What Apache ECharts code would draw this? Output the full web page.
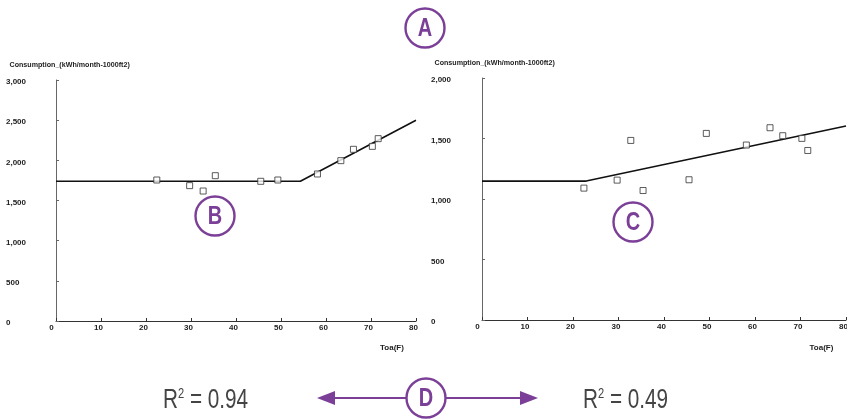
<!DOCTYPE html>
<html><head><meta charset="utf-8">
<style>html,body{margin:0;padding:0;background:#fff}#c{width:847px;height:420px}</style>
<script src="https://cdn.jsdelivr.net/npm/echarts@6/dist/echarts.min.js"></script>
</head><body><div id="c"></div>
<script>
const yTitle = 'Consumption_(kWh/month-1000ft2)';
const xTitle = 'Toa(F)';
const temps = [22.4, 29.7, 32.7, 35.4, 45.5, 49.3, 58.1, 63.3, 66.1, 70.3, 71.6];
const leftValues = [1755, 1685, 1618, 1809, 1739, 1755, 1830, 1996, 2137, 2174, 2270];
const rightValues = [1090, 1156, 1484, 1070, 1159, 1542, 1446, 1589, 1523, 1501, 1401];
const leftFit = [[0, 1740], [54.3, 1740], [80, 2498]];
const rightFit = [[0, 1148], [22.9, 1148], [80, 1603]];
const leftMax = 3000, rightMax = 2000;
const r2Left = 'R{s|2} = 0.94', r2Right = 'R{s|2} = 0.49';
const purple = '#7b3f98';
const tickFont = {fontFamily:'Liberation Sans', fontSize:8, fontWeight:'bold', color:'#222'};

function pairs(xs, ys){ return xs.map((x,i)=>[x,ys[i]]); }
function xAxis(i){ return {gridIndex:i, type:'value', min:0, max:80, interval:10,
  axisLine:{lineStyle:{color:'#333',width:1}}, axisTick:{inside:true,length:3,lineStyle:{color:'#333'}},
  splitLine:{show:false},
  axisLabel:Object.assign({margin:3, showMinLabel:true, showMaxLabel:true, align:'center',
    formatter:v=>v===0?'{z|0}':'{n|'+v+'}',
    rich:{z:Object.assign({padding:[0,9,0,0]},tickFont), n:Object.assign({padding:[0,5,0,0]},tickFont)}}, tickFont)}; }
function yAxis(i,max,interval,margin){ return {gridIndex:i, type:'value', min:0, max:max, interval:interval,
  axisLine:{show:true,lineStyle:{color:'#666',width:1}}, axisTick:{show:true,inside:true,length:3,lineStyle:{color:'#666'}},
  splitLine:{show:false},
  axisLabel:Object.assign({margin:margin, align:'left',
    formatter:v=>'{n|'+v.toLocaleString('en-US')+'}',
    rich:{n:Object.assign({padding:[4,0,0,0]},tickFont)}}, tickFont)}; }
function scatter(i,d){ return {type:'scatter', xAxisIndex:i, yAxisIndex:i, data:d, symbol:'rect', symbolSize:6,
  itemStyle:{color:'#fff',borderColor:'#333',borderWidth:1}, z:3, silent:true}; }
function line(i,d){ return {type:'line', xAxisIndex:i, yAxisIndex:i, data:d, symbol:'none',
  lineStyle:{color:'#111',width:1.6}, z:2, silent:true}; }
function badge(cx,cy,r,label,fs){ return [
  {type:'circle', shape:{cx,cy,r}, style:{fill:'#fff',stroke:purple,lineWidth:2.4}, z:10},
  {type:'text', x:cx, y:cy+1, scaleX:0.8, style:{text:label,fill:purple,font:'bold '+fs+'px "Liberation Sans"',align:'center',verticalAlign:'middle'}, z:11}
]; }
function note(x,y,text,fs,sx){ return {type:'text', x, y, scaleX:sx||1, style:{text, fill:'#222', font:'bold '+fs+'px "Liberation Sans"', align:'left', verticalAlign:'middle'}, z:5}; }
function r2(x,text){ return {type:'text', x, y:400, scaleX:0.74, style:{text, fill:'#444', font:'28px "Liberation Sans"', align:'left', verticalAlign:'middle',
  rich:{s:{font:'15px "Liberation Sans"', fill:'#444', verticalAlign:'top', padding:[0,0,12,0]}}}, z:5}; }

const chart = echarts.init(document.getElementById('c'), null, {renderer:'canvas'});
chart.setOption({
  animation:false, backgroundColor:'#fff',
  grid:[{left:56,top:80,width:360,height:241,outerBoundsMode:'none'},{left:482,top:78,width:364,height:242,outerBoundsMode:'none'}],
  xAxis:[xAxis(0),xAxis(1)],
  yAxis:[yAxis(0,leftMax,500,50),yAxis(1,rightMax,500,51)],
  series:[line(0,leftFit),scatter(0,pairs(temps,leftValues)),line(1,rightFit),scatter(1,pairs(temps,rightValues))],
  graphic:{elements:[
    note(9.5,65,yTitle,8,0.89), note(434.5,63,yTitle,8,0.89),
    note(380,348,xTitle,8), note(809.5,347.5,xTitle,8),
    ...badge(425,28,19.5,'A',25),
    ...badge(215,216,19.5,'B',25),
    ...badge(633,222,19.5,'C',25),
    {type:'line', shape:{x1:325,y1:398,x2:530,y2:398}, style:{stroke:purple,lineWidth:2.2}, z:8},
    {type:'polygon', shape:{points:[[317,398],[335,391],[335,405]]}, style:{fill:purple}, z:8},
    {type:'polygon', shape:{points:[[538,398],[520,391],[520,405]]}, style:{fill:purple}, z:8},
    ...badge(426,398,19.5,'D',25),
    r2(163,r2Left), r2(583,r2Right)
  ]}
});
</script></body></html>
